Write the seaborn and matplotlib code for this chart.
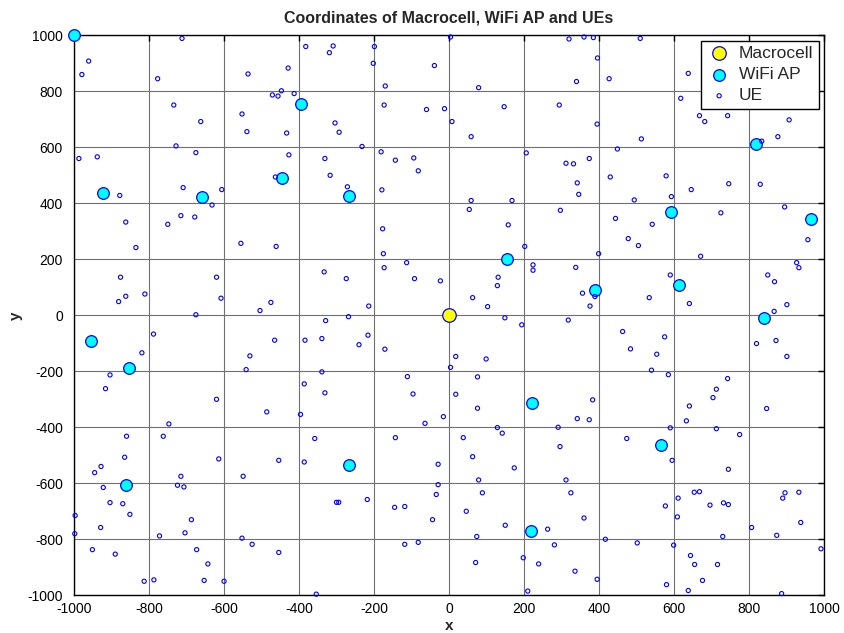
import matplotlib
matplotlib.use("Agg")
import matplotlib.pyplot as plt
import seaborn as sns
import pandas as pd

# Macrocell base station
macro_x = [0]
macro_y = [0]

# WiFi access points
ap_x = [-1000, -922, -660, -445, -394, -266, -954, -854, -861, -268,
        154, 221, 219, 389, 591, 613, 840, 818, 965, 564]
ap_y = [1000, 436, 424, 491, 756, 426, -92, -189, -607, -534,
        200, -312, -770, 92, 370, 108, -9, 611, 345, -462]

# User equipment positions
ue_x = [
    -712, -961, -979, -777, -536, -734, -552, -662, -539, -728, -675, -987, -938, -709, -606, -878, -632, -715, -678,
    -382, -309, -319, -199, -429, -202, -39, -170, -447, -471, -456, -413, -173, -60, -12, -304, -293, -433, -232,
    -427, -181, -331, -143, -94, -82, -463, -317, -271, -179,
    4, 320, 360, 385, 396, 79, 340, 427, 147, 294, 8, 59, 395, 206, 449, 312, 332, 374, 430, 342, 346, 59, 168,
    494, 54, 297,
    510, 638, 618, 668, 682, 743, 907, 513, 877, 834, 579, 646, 746, 830, 593, 725, 895,
    -862, -750, -835, -555, -876, -620, -862, -881, -811, -608, -675, -788, -819, -531, -541, -904, -916, -620,
    -177, -461, -175, -113, -173, -333, -274, -92, -23, -475, -504, -214, -268, -329, -465, -384, -339, -216,
    -240, -171, -339, -111, -386, -331, -96,
    444, 158, 478, 202, 399, 224, 224, 338, 131, 129, 356, 389, 63, 103, 376, 149, 194, 318, 463, 484, 18, 99,
    4, 76, 18, 383,
    542, 505, 957, 671, 927, 933, 590, 850, 868, 534, 641, 901, 867, 575, 820, 872, 901, 554, 540, 585, 743,
    713, 704, 641,
    -747, -860, -762, -865, -614, -928, -945, -715, -549, -922, -724, -707, -904, -870, -997, -851, -687, -929,
    -998, -772, -704, -552, -525, -951, -673, -890, -643, -813, -787, -653, -600,
    -486, -396, -64, -15, -358, -143, -454, -386, -29, -29, -34, -300, -294, -218, -145, -118, -44, -454, -118,
    -82, -354,
    76, 342, 374, 129, 291, 142, 38, 474, 296, 63, 174, 79, 312, 89, 325, 46, 360, 150, 263, 74, 417, 281, 71,
    198, 239, 336, 395, 210,
    847, 633, 590, 713, 775, 595, 745, 654, 668, 611, 577, 696, 732, 745, 896, 890, 933, 609, 938, 807, 874,
    730, 502, 599, 992, 644, 655, 716, 676, 580, 638, 887,
]
ue_y = [
    989, 908, 860, 845, 862, 751, 719, 692, 656, 605, 581, 560, 566, 456, 449, 428, 394, 356, 351,
    960, 962, 938, 960, 883, 900, 892, 819, 802, 787, 783, 792, 751, 735, 738, 687, 654, 651, 603,
    573, 584, 560, 554, 562, 516, 494, 500, 459, 448,
    994, 987, 994, 992, 919, 813, 835, 845, 745, 751, 692, 638, 683, 580, 594, 543, 541, 560, 494, 473, 432, 410,
    410, 412, 378, 375,
    989, 864, 775, 713, 692, 713, 698, 630, 638, 622, 498, 449, 470, 468, 424, 366, 387,
    333, 325, 242, 257, 136, 136, 68, 49, 76, 61, 2, -67, -134, -145, -194, -213, -262, -300,
    309, 246, 220, 188, 170, 155, 131, 131, 123, 46, 17, 33, -5, -19, -89, -89, -83, -71,
    -105, -121, -202, -219, -245, -277, -281,
    346, 323, 274, 246, 220, 180, 161, 171, 136, 106, 79, 67, 63, 31, 33, -9, -34, -17, -58, -120, -147, -156,
    -186, -220, -282, -302,
    325, 249, 270, 211, 188, 170, 144, 144, 120, 63, 42, 38, 14, -77, -101, -90, -147, -139, -196, -212, -226,
    -264, -294, -324,
    -388, -432, -432, -507, -513, -540, -562, -575, -575, -615, -607, -613, -669, -673, -715, -711, -730, -758,
    -780, -788, -777, -796, -818, -837, -837, -853, -888, -950, -945, -947, -950,
    -345, -354, -386, -362, -440, -437, -518, -524, -532, -605, -640, -668, -668, -658, -686, -683, -730, -847,
    -818, -811, -996,
    -332, -369, -373, -401, -400, -421, -437, -440, -469, -505, -545, -588, -588, -634, -634, -700, -724, -750,
    -764, -790, -800, -820, -883, -866, -888, -914, -943, -985,
    -333, -377, -402, -405, -426, -518, -550, -632, -630, -653, -681, -678, -670, -676, -634, -653, -632, -720,
    -740, -758, -786, -790, -813, -821, -834, -858, -890, -890, -947, -962, -983, -994,
]

macro_df = pd.DataFrame({"x": macro_x, "y": macro_y})
ap_df = pd.DataFrame({"x": ap_x, "y": ap_y})
ue_df = pd.DataFrame({"x": ue_x, "y": ue_y})

sns.set_style("white")
plt.rcParams["font.family"] = ["Liberation Sans", "DejaVu Sans"]
plt.rcParams["axes.unicode_minus"] = False

fig = plt.figure(figsize=(8.44, 6.33), dpi=100)
ax = fig.add_axes([0.0877, 0.0596, 0.8886, 0.8846])

sns.scatterplot(data=macro_df, x="x", y="y", ax=ax, s=95, color="yellow",
                edgecolor="blue", linewidth=0.9, marker="o", label="Macrocell",
                zorder=3, clip_on=False)
sns.scatterplot(data=ap_df, x="x", y="y", ax=ax, s=70, color="cyan",
                edgecolor="blue", linewidth=0.9, marker="o", label="WiFi AP",
                zorder=3, clip_on=False)
sns.scatterplot(data=ue_df, x="x", y="y", ax=ax, s=9, facecolors="none",
                edgecolor="blue", linewidth=0.8, marker="o", label="UE",
                zorder=4, clip_on=False)

ax.set_xlim(-1000, 1000)
ax.set_ylim(-1000, 1000)
ax.set_xticks(range(-1000, 1001, 200))
ax.set_yticks(range(-1000, 1001, 200))
ax.grid(True, color="#707070", linewidth=0.8, linestyle="-")
ax.set_axisbelow(True)
ax.tick_params(direction="in", top=True, right=True, length=4, width=1,
               labelsize=10, colors="black")
ax.tick_params(axis="x", pad=5)
ax.tick_params(axis="y", pad=8)
for sp in ax.spines.values():
    sp.set_color("black")
    sp.set_linewidth(1.0)

ax.set_title("Coordinates of Macrocell, WiFi AP and UEs", fontsize=11.5,
             fontweight="bold", pad=9)
ax.set_xlabel("x", fontsize=11, fontweight="bold", labelpad=2)
ax.set_ylabel("y", fontsize=11, fontweight="bold", labelpad=3)

leg = ax.legend(loc="upper right", fontsize=12.5, frameon=True, fancybox=False,
                framealpha=1, edgecolor="black", borderaxespad=0.3,
                handletextpad=0.4, borderpad=0.3, labelspacing=0.35,
                handlelength=1.5)
leg.get_frame().set_linewidth(1.0)

fig.savefig("out.png", dpi=100)
